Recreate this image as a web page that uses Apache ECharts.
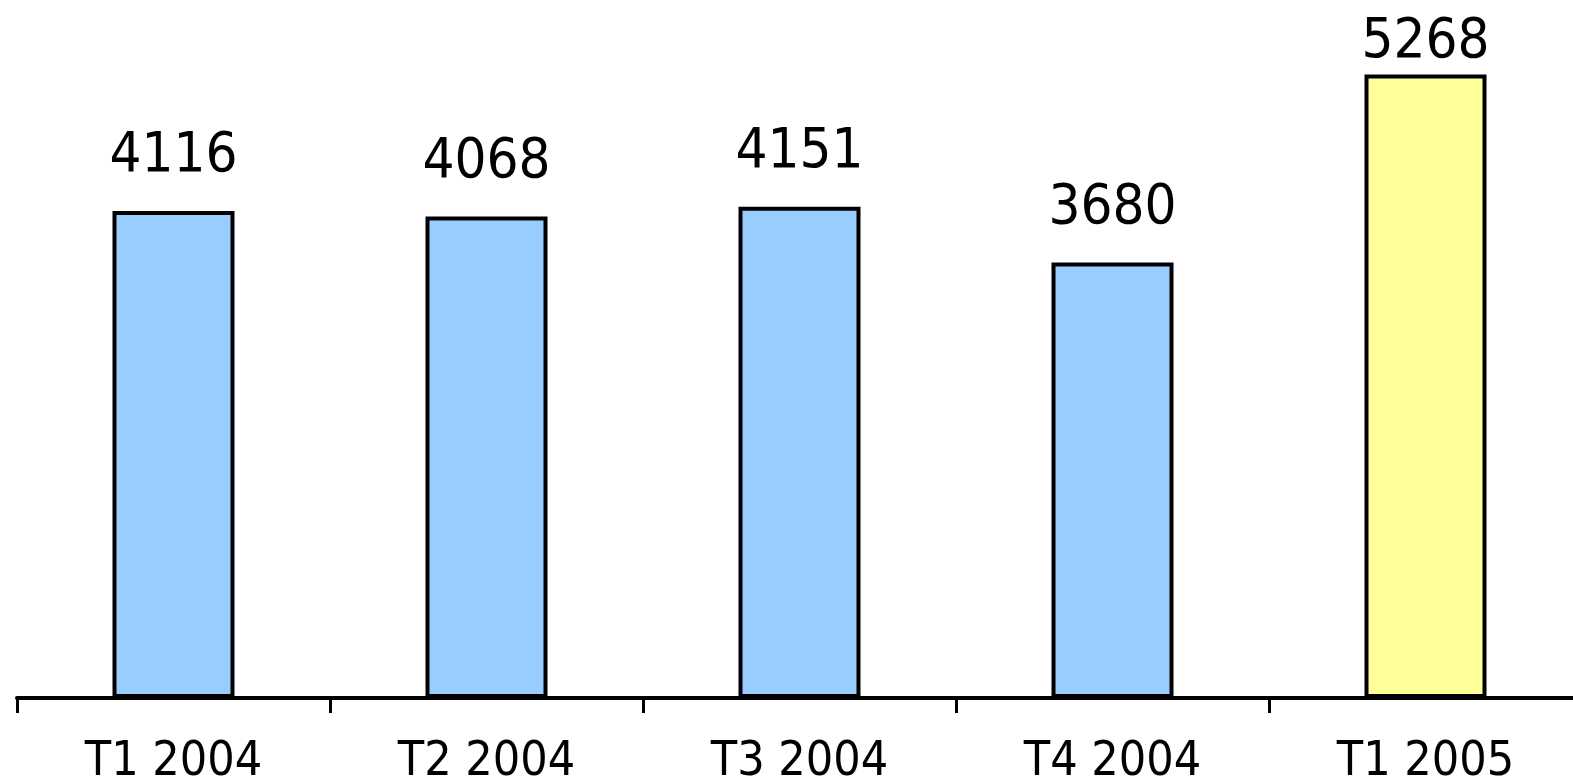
<!DOCTYPE html>
<html><head><meta charset="utf-8">
<script src="https://cdn.jsdelivr.net/npm/echarts@6/dist/echarts.min.js"></script>
<style>html,body{margin:0;padding:0;background:#fff}#c{width:1573px;height:777px}</style>
</head><body><div id="c"></div>
<script>
const categories = ['T1 2004','T2 2004','T3 2004','T4 2004','T1 2005'];
const values = [4116, 4068, 4151, 3680, 5268];
const colors = ['#99CCFF','#99CCFF','#99CCFF','#99CCFF','#FFFF99'];

const FONT = '"DejaVu Sans Condensed", "DejaVu Sans", sans-serif';
const data = values.map((v, i) => ({
  value: v,
  itemStyle: { color: colors[i] },
  label: i === values.length - 1 ? { distance: 4 } : undefined
}));

const chart = echarts.init(document.getElementById('c'), null, {renderer:'canvas'});
chart.setOption({
  animation: false,
  grid: { left: 17, right: -9, top: -12, bottom: 79, containLabel: false, outerBoundsMode: 'none' },
  xAxis: {
    type: 'category',
    data: categories,
    axisLine: { show: true, lineStyle: { color: '#000', width: 4 } },
    axisTick: { show: true, length: 15, lineStyle: { color: '#000', width: 3 } },
    axisLabel: { color: '#000', fontSize: 48, fontFamily: FONT, margin: 41 }
  },
  yAxis: { type: 'value', min: 0, max: 6000, show: false, splitLine: { show: false } },
  series: [{
    type: 'bar',
    data: data,
    barWidth: 122,
    itemStyle: { borderColor: '#000', borderWidth: 4 },
    label: { show: true, position: 'top', distance: 26, color: '#000', fontSize: 56, fontFamily: FONT }
  }]
});
</script></body></html>
